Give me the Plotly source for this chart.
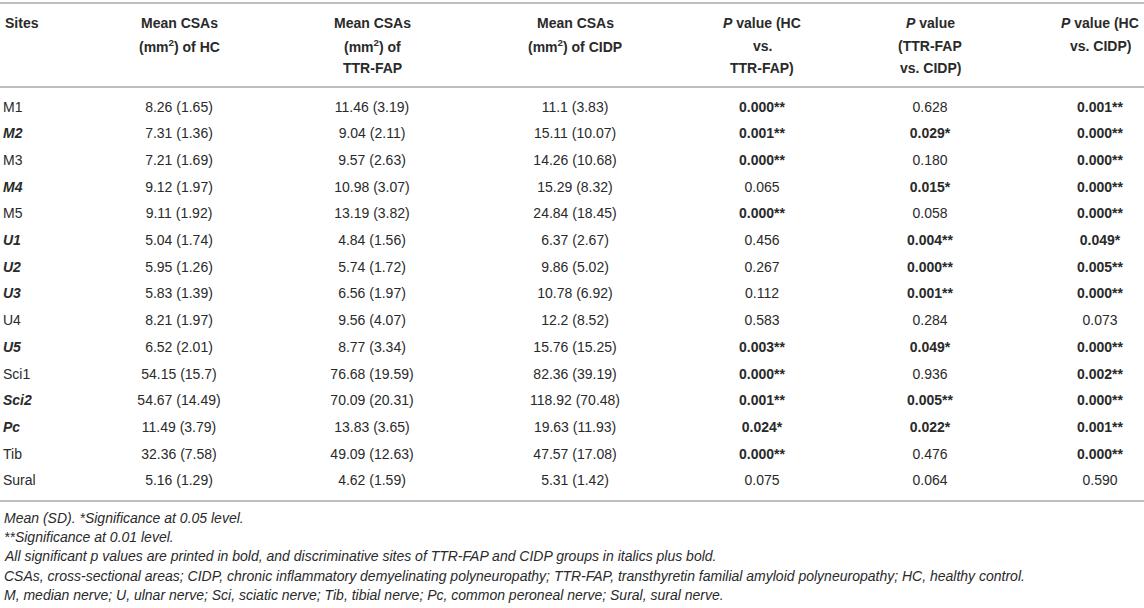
import plotly.graph_objects as go

# table data
sites = ["M1", "M2", "M3", "M4", "M5", "U1", "U2", "U3", "U4", "U5",
         "Sci1", "Sci2", "Pc", "Tib", "Sural"]
discriminative = ["M2", "M4", "U1", "U2", "U3", "U5", "Sci2", "Pc"]

hc_mean = [8.26, 7.31, 7.21, 9.12, 9.11, 5.04, 5.95, 5.83, 8.21, 6.52, 54.15, 54.67, 11.49, 32.36, 5.16]
hc_sd = [1.65, 1.36, 1.69, 1.97, 1.92, 1.74, 1.26, 1.39, 1.97, 2.01, 15.7, 14.49, 3.79, 7.58, 1.29]

ttr_mean = [11.46, 9.04, 9.57, 10.98, 13.19, 4.84, 5.74, 6.56, 9.56, 8.77, 76.68, 70.09, 13.83, 49.09, 4.62]
ttr_sd = [3.19, 2.11, 2.63, 3.07, 3.82, 1.56, 1.72, 1.97, 4.07, 3.34, 19.59, 20.31, 3.65, 12.63, 1.59]

cidp_mean = [11.1, 15.11, 14.26, 15.29, 24.84, 6.37, 9.86, 10.78, 12.2, 15.76, 82.36, 118.92, 19.63, 47.57, 5.31]
cidp_sd = [3.83, 10.07, 10.68, 8.32, 18.45, 2.67, 5.02, 6.92, 8.52, 15.25, 39.19, 70.48, 11.93, 17.08, 1.42]

p_hc_ttr = [0.000, 0.001, 0.000, 0.065, 0.000, 0.456, 0.267, 0.112, 0.583, 0.003, 0.000, 0.001, 0.024, 0.000, 0.075]
p_ttr_cidp = [0.628, 0.029, 0.180, 0.015, 0.058, 0.004, 0.000, 0.001, 0.284, 0.049, 0.936, 0.005, 0.022, 0.476, 0.064]
p_hc_cidp = [0.001, 0.000, 0.000, 0.000, 0.000, 0.049, 0.005, 0.000, 0.073, 0.000, 0.002, 0.000, 0.001, 0.000, 0.590]

headers = [
    ["Sites"],
    ["Mean CSAs", "(mm<sup>2</sup>) of HC"],
    ["Mean CSAs", "(mm<sup>2</sup>) of", "TTR-FAP"],
    ["Mean CSAs", "(mm<sup>2</sup>) of CIDP"],
    ["<i>P</i> value (HC", "vs.", "TTR-FAP)"],
    ["<i>P</i> value", "(TTR-FAP", "vs. CIDP)"],
    ["<i>P</i> value (HC", "vs. CIDP)"],
]

footnotes = [
    "Mean (SD). *Significance at 0.05 level.",
    "**Significance at 0.01 level.",
    "All significant p values are printed in bold, and discriminative sites of TTR-FAP and CIDP groups in italics plus bold.",
    "CSAs, cross-sectional areas; CIDP, chronic inflammatory demyelinating polyneuropathy; TTR-FAP, transthyretin familial amyloid polyneuropathy; HC, healthy control.",
    "M, median nerve; U, ulnar nerve; Sci, sciatic nerve; Tib, tibial nerve; Pc, common peroneal nerve; Sural, sural nerve.",
]

W, H = 1144, 608
FONT = "Liberation Sans"
TXT = "#2a2a2a"
RULE = "#bdbdbd"
SIZE = 14

# layout in pixels, converted to row units on the y axis
ROW0, ROW_H = 108, 26.7
HEAD_Y = [23, 46, 68]
TOP_RULE, HEAD_RULE, BOT_RULE = 3, 87, 501
FOOT0, FOOT_H = 518, 19.2
col_x = [3, 179, 372, 575, 762, 930, 1100]


def to_row(px):
    return (px - ROW0) / ROW_H


def fmt_csa(m, s):
    return f"{m} ({s})"


def fmt_p(p):
    stars = "**" if p < 0.01 else "*" if p < 0.05 else ""
    txt = f"{p:.3f}{stars}"
    return f"<b>{txt}</b>" if stars else txt


site_txt = [f"<b><i>{s}</i></b>" if s in discriminative else s for s in sites]
columns = [
    site_txt,
    [fmt_csa(m, s) for m, s in zip(hc_mean, hc_sd)],
    [fmt_csa(m, s) for m, s in zip(ttr_mean, ttr_sd)],
    [fmt_csa(m, s) for m, s in zip(cidp_mean, cidp_sd)],
    [fmt_p(p) for p in p_hc_ttr],
    [fmt_p(p) for p in p_ttr_cidp],
    [fmt_p(p) for p in p_hc_cidp],
]

rows = list(range(len(sites)))
fig = go.Figure()
for i, col in enumerate(columns):
    fig.add_trace(go.Scatter(
        x=[col_x[i]] * len(rows),
        y=rows,
        mode="text",
        text=col,
        textposition="middle right" if i == 0 else "middle center",
        textfont=dict(family=FONT, size=SIZE, color=TXT),
        hoverinfo="skip",
        showlegend=False,
    ))

annotations = []
for i, lines in enumerate(headers):
    for j, line in enumerate(lines):
        annotations.append(dict(
            x=col_x[i], y=to_row(HEAD_Y[j]), xref="x", yref="y",
            text=f"<b>{line}</b>", showarrow=False,
            xanchor="left" if i == 0 else "center", yanchor="middle",
            font=dict(family=FONT, size=SIZE, color=TXT),
        ))
for k, note in enumerate(footnotes):
    annotations.append(dict(
        x=col_x[0] - 1, y=to_row(FOOT0 + k * FOOT_H), xref="x", yref="y",
        text=f"<i>{note}</i>", showarrow=False,
        xanchor="left", yanchor="middle",
        font=dict(family=FONT, size=SIZE, color=TXT),
    ))

shapes = [
    dict(type="line", xref="paper", yref="y", x0=0, x1=1,
         y0=to_row(py), y1=to_row(py), line=dict(color=RULE, width=2))
    for py in (TOP_RULE, HEAD_RULE, BOT_RULE)
]

fig.update_layout(
    width=W, height=H,
    margin=dict(l=0, r=0, t=0, b=0),
    paper_bgcolor="white", plot_bgcolor="white",
    xaxis=dict(range=[0, W], visible=False, fixedrange=True),
    yaxis=dict(range=[to_row(H), to_row(0)], visible=False, fixedrange=True),
    annotations=annotations,
    shapes=shapes,
)

# drop the page's default body margin so the figure sits at the window origin
fig.write_html("out.html", config={"displayModeBar": False},
               post_script="document.body.style.margin='0';document.body.style.overflow='hidden';")
